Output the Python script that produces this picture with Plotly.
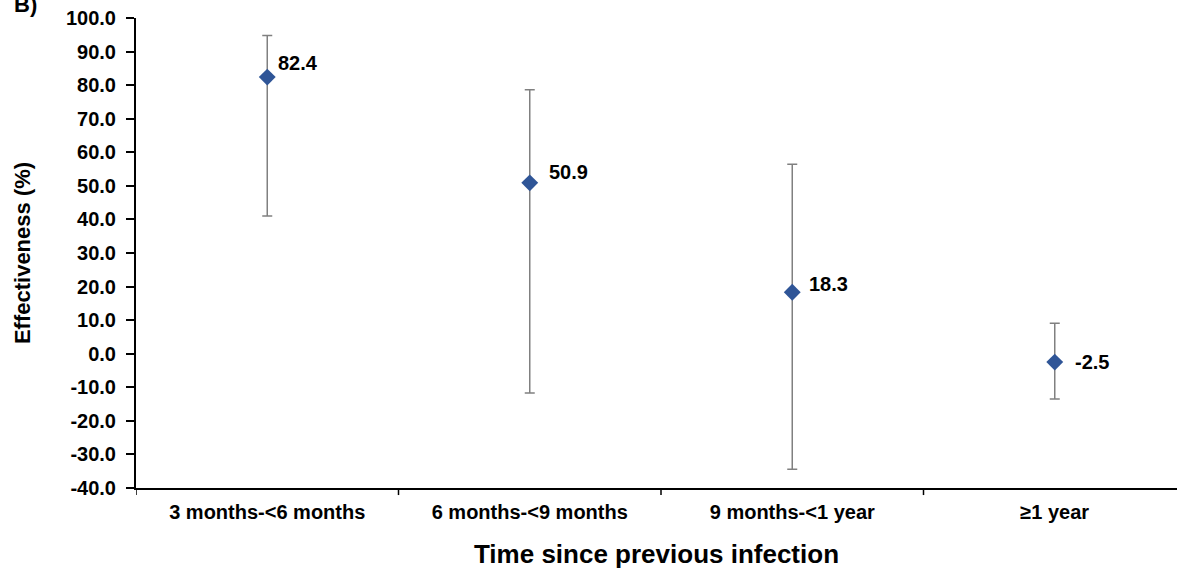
import plotly.graph_objects as go

categories = ["3 months-<6 months", "6 months-<9 months", "9 months-<1 year", "≥1 year"]
effectiveness = [82.4, 50.9, 18.3, -2.5]
ci_upper = [94.8, 78.6, 56.4, 9.1]
ci_lower = [41.0, -11.7, -34.4, -13.5]
y_ticks = [100, 90, 80, 70, 60, 50, 40, 30, 20, 10, 0, -10, -20, -30, -40]

label_dx = [9, 17, 15, 18]
label_dy = [14, 11, 8, 0]

FONT = "Liberation Sans, Arial, sans-serif"

xs = list(range(len(categories)))
fig = go.Figure()
fig.add_trace(go.Scatter(
    x=xs, y=effectiveness, mode="markers",
    marker=dict(symbol="diamond", size=13, color="#2F5597"),
    error_y=dict(type="data", symmetric=False,
                 array=[u - v for u, v in zip(ci_upper, effectiveness)],
                 arrayminus=[v - l for v, l in zip(effectiveness, ci_lower)],
                 color="#808080", thickness=1.5, width=5),
    showlegend=False, hoverinfo="skip",
))

for i, v in enumerate(effectiveness):
    fig.add_annotation(x=xs[i], y=v, text=f"<b>{v:.1f}</b>", showarrow=False,
                       xanchor="left", yanchor="middle", xshift=label_dx[i], yshift=label_dy[i],
                       font=dict(family=FONT, size=20, color="black"))

fig.add_annotation(xref="paper", yref="paper", x=-0.119, y=1.028, text="<b>B)</b>",
                   showarrow=False, xanchor="left", yanchor="middle",
                   font=dict(family=FONT, size=22, color="black"))

plot_w = 1177 - 136
cat_w = 262.5
fig.update_layout(
    width=1177, height=569,
    margin=dict(l=136, r=0, t=18, b=81, autoexpand=False),
    plot_bgcolor="white", paper_bgcolor="white",
    font=dict(family=FONT, color="black"),
    xaxis=dict(
        range=[-0.5, -0.5 + plot_w / cat_w],
        tickmode="array", tickvals=xs,
        ticktext=[f"<b>{c}</b>" for c in categories],
        tickfont=dict(family=FONT, size=20, color="black"),
        showline=True, linecolor="black", linewidth=2,
        ticks="", ticklabelstandoff=5,
        showgrid=False, zeroline=False, automargin=False,
        title=dict(text="<b>Time since previous infection</b>",
                   font=dict(family=FONT, size=26, color="black"), standoff=25),
    ),
    yaxis=dict(
        range=[-40, 100], tickmode="array", tickvals=y_ticks,
        ticktext=[f"<b>{t:.1f}</b>" for t in y_ticks],
        tickfont=dict(family=FONT, size=20, color="black"),
        showline=True, linecolor="black", linewidth=2,
        ticks="outside", ticklen=8, tickwidth=1.5, tickcolor="black",
        ticklabelstandoff=6,
        showgrid=False, zeroline=False, automargin=False,
        title=dict(text="<b>Effectiveness (%)</b>",
                   font=dict(family=FONT, size=22, color="black"), standoff=29),
    ),
)

# category boundary ticks on x axis
for b in [-0.5, 0.5, 1.5, 2.5]:
    fig.add_shape(type="line", xref="x", yref="paper", x0=b, x1=b, y0=0, y1=-0.015,
                  line=dict(color="black", width=1.5))

fig.write_html("out.html", config={"displayModeBar": False},
               post_script="document.body.style.margin='0';")
